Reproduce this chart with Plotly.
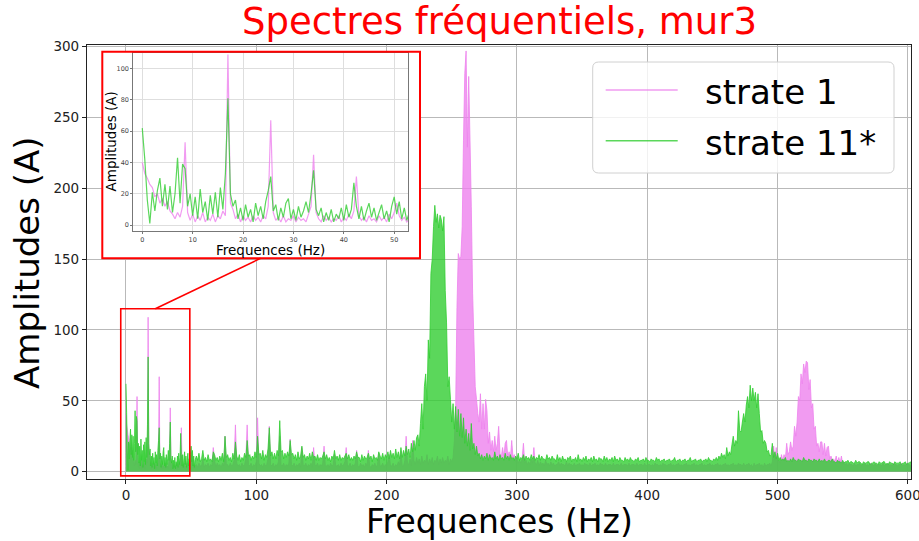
import numpy as np
import plotly.graph_objects as go


# ======================================================
# Data
# ======================================================
# fine part of the spectra: 0 - 53 Hz, one value every 0.5 Hz
FINE_START, FINE_STEP = 0.0, 0.5
# rest of the spectra: 54 - 603 Hz, one value every 1 Hz
MAIN_START, MAIN_STEP = 54.0, 1.0

SERIES_NAMES = ["strate 1", "strate 11*"]

PINK_FINE = [
    40, 33, 30, 26, 24, 18, 20, 14, 17, 12,
    15, 9, 7, 4, 8, 5, 12, 53, 8, 3,
    7, 2, 6, 3, 8, 2, 5, 3, 7, 2,
    6, 4, 9, 6, 109, 14, 10, 4, 7, 2,
    6, 3, 5, 2, 6, 3, 5, 2, 6, 4,
    12, 67, 8, 3, 5, 2, 6, 2, 4, 3,
    6, 2, 5, 3, 4, 2, 7, 12, 45, 8,
    4, 2, 6, 3, 5, 2, 4, 3, 6, 2,
    5, 3, 7, 4, 9, 31, 6, 3, 5, 2,
    6, 3, 4, 2, 6, 3, 5, 2, 7, 4,
    8, 14, 6, 3, 5, 2, 4,
]

GREEN_FINE = [
    62, 42, 16, 1, 21, 9, 22, 30, 12, 26,
    10, 25, 8, 20, 43, 14, 39, 36, 12, 20,
    6, 18, 4, 23, 8, 15, 3, 19, 7, 21,
    5, 24, 10, 33, 81, 20, 12, 16, 4, 11,
    3, 13, 5, 10, 2, 14, 6, 12, 4, 15,
    22, 31, 9, 13, 3, 11, 5, 14, 17, 4,
    10, 3, 12, 5, 9, 15, 8, 20, 35, 10,
    6, 11, 2, 8, 3, 10, 2, 7, 4, 11,
    3, 13, 5, 10, 27, 12, 4, 12, 3, 9,
    14, 5, 11, 3, 8, 13, 4, 9, 2, 12,
    18, 7, 15, 4, 11, 3, 8,
]

PINK_MAIN = [
    5, 3, 6, 4, 4, 9, 3, 5, 4, 6,            # 54
    3, 5, 4, 17, 8, 3, 6, 4, 5, 3,           # 64
    6, 4, 25, 5, 5, 3, 6, 4, 5, 8,           # 74
    33, 6, 4, 5, 3, 6, 4, 5, 9, 33,          # 84
    5, 4, 6, 3, 5, 4, 7, 38, 6, 4,           # 94
    5, 3, 6, 4, 5, 9, 32, 5, 4, 6,           # 104
    3, 5, 4, 7, 25, 5, 4, 6, 3, 5,           # 114
    4, 6, 23, 5, 4, 6, 3, 5, 4, 6,           # 124
    3, 17, 5, 4, 6, 3, 5, 4, 6, 3,           # 134
    17, 5, 4, 6, 3, 5, 4, 6, 18, 4,          # 144
    4, 5, 3, 6, 4, 5, 12, 4, 4, 5,           # 154
    3, 6, 4, 5, 7, 17, 4, 4, 6, 3,           # 164
    5, 4, 6, 15, 4, 3, 6, 4, 5, 3,           # 174
    6, 4, 15, 4, 3, 5, 4, 6, 3, 5,           # 184
    13, 4, 4, 6, 3, 5, 4, 7, 12, 4,          # 194
    4, 6, 3, 5, 4, 7, 5, 14, 4, 4,           # 204
    8, 25, 6, 5, 9, 4, 22, 8, 5, 10,         # 214
    6, 9, 5, 11, 6, 8, 7, 12, 5, 9,          # 224
    6, 10, 5, 8, 7, 11, 5, 9, 6, 10,         # 234
    6, 8, 7, 11, 5, 9, 7, 10, 22, 46,        # 244
    116, 154, 150, 152, 173, 234, 281, 297, 229, 279,  # 254
    234, 187, 126, 93, 60, 51, 41, 35, 55, 30,         # 264
    48, 30, 51, 43, 20, 28, 15, 22, 14, 25,  # 274
    15, 20, 32, 13, 10, 17, 10, 20, 22, 10,  # 284
    14, 9, 22, 10, 12, 7, 10, 6, 8, 6,       # 294
    9, 20, 6, 8, 5, 7, 5, 9, 6, 17,          # 304
    6, 5, 8, 4, 7, 5, 6, 4, 8, 5,            # 314
    6, 4, 7, 5, 6, 4, 5, 5, 7, 4,            # 324
    6, 5, 5, 4, 7, 4, 6, 5, 5, 4,            # 334
    6, 4, 5, 5, 6, 4, 5, 4, 6, 5,            # 344
    5, 4, 6, 4, 5, 5, 6, 4, 5, 4,            # 354
    6, 5, 5, 4, 6, 4, 5, 5, 5, 4,            # 364
    6, 4, 5, 5, 5, 4, 6, 4, 5, 5,            # 374
    5, 4, 6, 4, 5, 5, 5, 4, 6, 4,            # 384
    5, 5, 5, 4, 6, 4, 5, 5, 5, 4,            # 394
    5, 4, 6, 5, 5, 4, 5, 4, 6, 5,            # 404
    5, 4, 5, 5, 6, 4, 5, 4, 5, 5,            # 414
    6, 4, 5, 4, 5, 5, 6, 4, 5, 4,            # 424
    5, 5, 6, 4, 5, 4, 5, 5, 6, 4,            # 434
    5, 4, 5, 5, 6, 4, 5, 4, 5, 5,            # 444
    6, 4, 5, 4, 5, 5, 6, 4, 5, 4,            # 454
    5, 5, 6, 4, 5, 4, 6, 5, 5, 4,            # 464
    6, 4, 5, 5, 6, 4, 5, 3, 6, 4,            # 474
    5, 5, 6, 4, 5, 3, 6, 4, 5, 5,            # 484
    6, 4, 7, 18, 8, 17, 7, 8, 6, 12,         # 494
    8, 12, 9, 20, 12, 14, 21, 15, 18, 32,    # 504
    25, 35, 53, 50, 69, 62, 76, 70, 78, 77,  # 514
    58, 65, 45, 48, 30, 32, 18, 20, 14, 21,  # 524
    21, 12, 20, 11, 17, 18, 9, 11, 8, 9,     # 534
    7, 11, 6, 10, 6, 11, 5, 7, 5, 6,         # 544
    4, 6, 5, 5, 4, 6, 4, 5, 5, 6,            # 554
    4, 5, 5, 6, 4, 5, 4, 6, 5, 5,            # 564
    4, 6, 4, 5, 5, 5, 4, 6, 4, 5,            # 574
    5, 6, 4, 5, 4, 6, 5, 5, 4, 5,            # 584
    5, 6, 4, 5, 4, 6, 5, 5, 4, 5,            # 594
]

GREEN_MAIN = [
    11, 8, 13, 7, 9, 15, 8, 10, 7, 12,       # 54
    8, 9, 7, 14, 12, 8, 10, 7, 11, 8,        # 64
    13, 7, 25, 10, 12, 8, 10, 7, 13, 9,      # 74
    21, 11, 8, 12, 7, 10, 8, 13, 10, 22,     # 84
    11, 12, 8, 11, 9, 14, 10, 25, 12, 13,    # 94
    9, 15, 8, 12, 10, 16, 31, 11, 14, 9,     # 104
    13, 9, 15, 11, 36, 14, 15, 9, 13, 10,    # 114
    14, 11, 22, 12, 13, 9, 12, 8, 14, 9,     # 124
    11, 18, 10, 12, 8, 11, 9, 13, 8, 14,     # 134
    10, 11, 8, 12, 8, 10, 9, 11, 14, 9,      # 144
    12, 8, 10, 7, 11, 9, 15, 9, 11, 8,       # 154
    12, 8, 10, 9, 11, 13, 9, 12, 8, 10,      # 164
    8, 11, 9, 14, 10, 10, 7, 12, 8, 11,      # 174
    9, 10, 13, 9, 11, 7, 12, 9, 10, 8,       # 184
    14, 11, 9, 13, 8, 12, 10, 14, 9, 15,     # 194
    10, 13, 9, 16, 10, 14, 9, 17, 10, 15,    # 204
    11, 18, 12, 16, 10, 20, 14, 22, 15, 24,  # 214
    26, 18, 34, 48, 30, 60, 69, 50, 93, 80,  # 224
    140, 150, 173, 188, 176, 182, 172, 181, 178, 170,  # 234
    180, 128, 105, 60, 67, 51, 35, 48, 30, 46,         # 244
    28, 44, 25, 41, 24, 38, 20, 30, 18, 27,  # 254
    15, 34, 16, 20, 12, 18, 11, 13, 9, 12,   # 264
    8, 11, 9, 13, 8, 12, 9, 10, 8, 14,       # 274
    9, 11, 8, 12, 9, 10, 8, 13, 9, 11,       # 284
    8, 12, 9, 10, 8, 11, 9, 13, 8, 10,       # 294
    9, 12, 8, 11, 9, 10, 8, 12, 9, 11,       # 304
    8, 10, 9, 12, 8, 11, 9, 9, 8, 12,        # 314
    9, 10, 8, 11, 9, 9, 7, 12, 8, 10,        # 324
    7, 11, 8, 9, 7, 10, 9, 11, 7, 9,         # 334
    8, 10, 7, 12, 8, 9, 7, 10, 8, 11,        # 344
    7, 9, 8, 10, 7, 11, 8, 9, 7, 10,         # 354
    9, 9, 7, 11, 8, 10, 7, 9, 8, 10,         # 364
    7, 11, 8, 9, 7, 10, 8, 8, 7, 10,         # 374
    8, 9, 7, 10, 8, 8, 7, 9, 8, 10,          # 384
    7, 8, 8, 9, 7, 10, 8, 8, 7, 9,           # 394
    8, 8, 7, 10, 8, 9, 7, 8, 8, 9,           # 404
    7, 8, 8, 9, 7, 8, 8, 10, 7, 8,           # 414
    8, 9, 7, 8, 8, 9, 7, 8, 8, 10,           # 424
    7, 8, 8, 9, 7, 8, 8, 9, 7, 8,            # 434
    8, 9, 7, 10, 8, 8, 7, 9, 8, 10,          # 444
    8, 11, 9, 13, 10, 12, 9, 17, 11, 14,     # 454
    12, 19, 25, 18, 22, 20, 43, 29, 28, 35,  # 464
    41, 35, 47, 53, 45, 61, 50, 59, 50, 56,  # 474
    45, 55, 41, 28, 29, 20, 22, 20, 14, 15,  # 484
    11, 12, 20, 10, 14, 9, 13, 8, 10, 8,     # 494
    9, 8, 10, 7, 8, 7, 9, 7, 10, 8,          # 504
    8, 7, 9, 8, 8, 7, 10, 8, 8, 7,           # 514
    9, 8, 8, 7, 9, 8, 8, 7, 9, 7,            # 524
    8, 7, 9, 7, 7, 8, 8, 7, 9, 7,            # 534
    7, 6, 8, 7, 7, 6, 8, 6, 7, 7,            # 544
    8, 6, 7, 7, 6, 6, 8, 6, 7, 7,            # 554
    6, 5, 7, 6, 6, 7, 7, 5, 6, 6,            # 564
    7, 6, 6, 5, 7, 6, 6, 7, 7, 5,            # 574
    6, 5, 7, 6, 6, 5, 7, 6, 6, 6,            # 584
    7, 5, 6, 6, 7, 5, 6, 6, 7, 6,            # 594
]

X_TICKS = [0, 100, 200, 300, 400, 500, 600]
Y_TICKS = [0, 50, 100, 150, 200, 250, 300]
INSET_X_TICKS = [0, 10, 20, 30, 40, 50]
INSET_Y_TICKS = [0, 20, 40, 60, 80, 100]


# ======================================================
# Styles / geometry
# ======================================================
W, H = 919, 541
M_L, M_R, M_T, M_B = 87, 8, 45, 62
FONT = "DejaVu Sans"
PINK = "rgba(238,130,238,0.8)"
GREEN = "rgba(50,205,50,0.8)"
RED = "#ff0000"


def px_x(p):
    """pixel column -> paper x"""
    return (p - M_L) / (W - M_L - M_R)


def px_y(p):
    """pixel row -> paper y"""
    return (H - M_B - p) / (H - M_T - M_B)


def freq_axis(start, step, values):
    return start + step * np.arange(len(values))


f_fine = freq_axis(FINE_START, FINE_STEP, PINK_FINE)
f_main = freq_axis(MAIN_START, MAIN_STEP, PINK_MAIN)
f_fine_g = freq_axis(FINE_START, FINE_STEP, GREEN_FINE)
f_main_g = freq_axis(MAIN_START, MAIN_STEP, GREEN_MAIN)

pink_x = np.concatenate([f_fine, f_main])
pink_y = np.array(PINK_FINE + PINK_MAIN, dtype=float)
green_x = np.concatenate([f_fine_g, f_main_g])
green_y = np.array(GREEN_FINE + GREEN_MAIN, dtype=float)


# ======================================================
# Traces
# ======================================================
fig = go.Figure()

# main spectra: dense spectra look like filled bands at this scale
fig.add_trace(go.Scatter(
    x=pink_x, y=pink_y, mode="lines", name=SERIES_NAMES[0],
    line=dict(color=PINK, width=1, simplify=False),
    fill="tozeroy", fillcolor=PINK, showlegend=False, hoverinfo="skip",
))
fig.add_trace(go.Scatter(
    x=green_x, y=green_y, mode="lines", name=SERIES_NAMES[1],
    line=dict(color=GREEN, width=1, simplify=False),
    fill="tozeroy", fillcolor=GREEN, showlegend=False, hoverinfo="skip",
))

# empty subplot, only there to paint a white card behind the inset
fig.add_trace(go.Scatter(
    x=[None], y=[None], xaxis="x2", yaxis="y2",
    showlegend=False, hoverinfo="skip",
))

# inset (zoom on 0 - 53 Hz)
fig.add_trace(go.Scatter(
    x=f_fine, y=PINK_FINE, mode="lines", xaxis="x3", yaxis="y3",
    line=dict(color=PINK, width=1.2, simplify=False),
    showlegend=False, hoverinfo="skip",
))
fig.add_trace(go.Scatter(
    x=f_fine_g, y=GREEN_FINE, mode="lines", xaxis="x3", yaxis="y3",
    line=dict(color=GREEN, width=1.2, simplify=False),
    showlegend=False, hoverinfo="skip",
))


# ======================================================
# Axes
# ======================================================
main_axis = dict(
    showgrid=True, gridcolor="#b9b9b9", gridwidth=1,
    showline=True, mirror=True, linecolor="#222222", linewidth=1.2,
    ticks="outside", ticklen=4, tickcolor="#222222",
    tickfont=dict(family=FONT, size=13.5, color="#222222"),
    ticklabeloverflow="allow", automargin=False,
    zeroline=False,
)
inset_axis = dict(
    showgrid=True, gridcolor="#dedede", gridwidth=1,
    showline=True, mirror=True, linecolor="#777777", linewidth=1,
    ticks="outside", ticklen=2, tickcolor="#777777",
    tickfont=dict(family=FONT, size=6.5, color="#444444"),
    automargin=False, zeroline=False,
)

inset_box = (133.3, 52.7, 408.3, 231.0)     # left, top, right, bottom (px)
card_box = (102.3, 51.7, 420.0, 258.3)

fig.update_layout(
    xaxis=dict(main_axis, range=[-29.9, 602.4], tickvals=X_TICKS,
               domain=[0, 1], anchor="y"),
    yaxis=dict(main_axis, range=[-5.2, 301.2], tickvals=Y_TICKS,
               domain=[0, 1], anchor="x"),
    xaxis2=dict(visible=False, range=[0, 1], anchor="y2", automargin=False,
                domain=[px_x(card_box[0]), px_x(card_box[2])]),
    yaxis2=dict(visible=False, range=[0, 1], anchor="x2", automargin=False,
                domain=[px_y(card_box[3]), px_y(card_box[1])]),
    xaxis3=dict(inset_axis, range=[-1.78, 52.8], tickvals=INSET_X_TICKS,
                anchor="y3",
                domain=[px_x(inset_box[0]), px_x(inset_box[2])]),
    yaxis3=dict(inset_axis, range=[-3.8, 110.2], tickvals=INSET_Y_TICKS,
                anchor="x3",
                domain=[px_y(inset_box[3]), px_y(inset_box[1])]),
)


# ======================================================
# Shapes: red frames, zoom link, hand-made legend
# ======================================================
def rounded_rect(x0, y0, x1, y1, r=6):
    """rounded rectangle path in paper coords, corners given in px"""
    ax0, ax1 = px_x(x0), px_x(x1)
    ay0, ay1 = px_y(y0), px_y(y1)
    rx = r / (W - M_L - M_R)
    ry = r / (H - M_T - M_B)
    return (
        f"M{ax0 + rx},{ay0} L{ax1 - rx},{ay0} Q{ax1},{ay0} {ax1},{ay0 - ry} "
        f"L{ax1},{ay1 + ry} Q{ax1},{ay1} {ax1 - rx},{ay1} "
        f"L{ax0 + rx},{ay1} Q{ax0},{ay1} {ax0},{ay1 + ry} "
        f"L{ax0},{ay0 - ry} Q{ax0},{ay0} {ax0 + rx},{ay0} Z"
    )


legend_box = (592.7, 62.0, 894.0, 173.0)
legend_rows = [90.0, 140.7]
legend_colors = [PINK, GREEN]

shapes = [
    # red frame around the inset
    dict(type="rect", xref="paper", yref="paper", layer="above",
         x0=px_x(card_box[0]), x1=px_x(card_box[2]),
         y0=px_y(card_box[3]), y1=px_y(card_box[1]),
         line=dict(color=RED, width=2)),
    # zoomed region on the main plot
    dict(type="rect", xref="x", yref="y", layer="above",
         x0=-4, x1=49, y0=-3, y1=115,
         line=dict(color=RED, width=1.6)),
    # link between zoomed region and inset
    dict(type="line", xref="x", yref="y", layer="above",
         x0=22.5, y0=115, x1=103.3, y1=150.6,
         line=dict(color=RED, width=1.6)),
    # legend frame
    dict(type="path", xref="paper", yref="paper", layer="above",
         path=rounded_rect(*legend_box),
         fillcolor="rgba(255,255,255,0.8)",
         line=dict(color="#d0d0d0", width=1)),
]
for row, color in zip(legend_rows, legend_colors):
    shapes.append(dict(
        type="line", xref="paper", yref="paper", layer="above",
        x0=px_x(605.7), x1=px_x(677.7), y0=px_y(row), y1=px_y(row),
        line=dict(color=color, width=1.5),
    ))


# ======================================================
# Texts
# ======================================================
annotations = [
    dict(text="Spectres fréquentiels, mur3", x=0.5, y=px_y(22),
         font=dict(family=FONT, size=37, color=RED)),
    dict(text="Frequences (Hz)", x=0.5, y=px_y(521),
         font=dict(family=FONT, size=33, color="black")),
    dict(text="Amplitudes (A)", x=px_x(27), y=px_y(263), textangle=-90,
         font=dict(family=FONT, size=34, color="black")),
    dict(text="Frequences (Hz)", x=px_x(270.5), y=px_y(250),
         font=dict(family=FONT, size=13.5, color="black")),
    dict(text="Amplitudes (A)", x=px_x(110.5), y=px_y(142), textangle=-90,
         font=dict(family=FONT, size=13.5, color="black")),
]
for row, name in zip(legend_rows, SERIES_NAMES):
    annotations.append(dict(
        text=name, x=px_x(703), y=px_y(row + 2), xanchor="left",
        font=dict(family=FONT, size=34, color="black"),
    ))
for a in annotations:
    a.update(xref="paper", yref="paper", showarrow=False)
    a.setdefault("xanchor", "center")
    a.setdefault("yanchor", "middle")


fig.update_layout(
    width=W, height=H,
    margin=dict(l=M_L, r=M_R, t=M_T, b=M_B, pad=0),
    paper_bgcolor="white",
    plot_bgcolor="white",
    showlegend=False,
    hovermode=False,
    shapes=shapes,
    annotations=annotations,
    font=dict(family=FONT),
)

# the page body has a default 8px margin: drop it so the figure sits at 0,0
fig.write_html(
    "out.html",
    config={"displayModeBar": False},
    post_script="document.body.style.margin = '0px';",
)
